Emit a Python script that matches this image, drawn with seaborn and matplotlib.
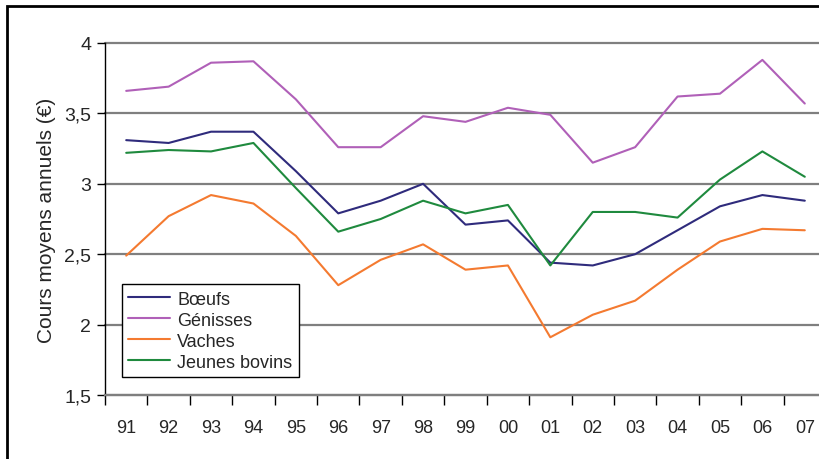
import pandas as pd
import matplotlib
matplotlib.use('Agg')
import matplotlib.pyplot as plt
import seaborn as sns
from matplotlib.patches import Rectangle
from matplotlib.ticker import FixedLocator, FuncFormatter

# données
annees = ['91', '92', '93', '94', '95', '96', '97', '98', '99', '00',
          '01', '02', '03', '04', '05', '06', '07']
boeufs = [3.31, 3.29, 3.37, 3.37, 3.09, 2.79, 2.88, 3.00, 2.71, 2.74,
          2.44, 2.42, 2.50, 2.67, 2.84, 2.92, 2.88]
genisses = [3.66, 3.69, 3.86, 3.87, 3.60, 3.26, 3.26, 3.48, 3.44, 3.54,
            3.49, 3.15, 3.26, 3.62, 3.64, 3.88, 3.57]
vaches = [2.49, 2.77, 2.92, 2.86, 2.63, 2.28, 2.46, 2.57, 2.39, 2.42,
          1.91, 2.07, 2.17, 2.39, 2.59, 2.68, 2.67]
jeunes_bovins = [3.22, 3.24, 3.23, 3.29, 2.97, 2.66, 2.75, 2.88, 2.79, 2.85,
                 2.42, 2.80, 2.80, 2.76, 3.03, 3.23, 3.05]

series = ['Bœufs', 'Génisses', 'Vaches', 'Jeunes bovins']
couleurs = ['#2f2b7c', '#b060b8', '#f47a30', '#1f8a3e']

df = pd.DataFrame({
    'annee': annees * 4,
    'idx': list(range(len(annees))) * 4,
    'cours': boeufs + genisses + vaches + jeunes_bovins,
    'type': [s for s in series for _ in annees],
})

sns.set_style('white')
plt.rcParams['font.family'] = ['Liberation Sans', 'DejaVu Sans']

fig = plt.figure(figsize=(8.19, 4.60), dpi=100)
ax = fig.add_axes([105 / 819, 64 / 460, 721 / 819, 352 / 460])

sns.lineplot(data=df, x='idx', y='cours', hue='type', hue_order=series,
             palette=couleurs, linewidth=1.5, ax=ax, legend=False)

ax.set_xlim(-0.5, len(annees) - 0.5)
ax.set_ylim(1.5, 4)
ax.set_yticks([1.5, 2, 2.5, 3, 3.5, 4])
ax.yaxis.set_major_formatter(FuncFormatter(lambda v, p: ('%g' % v).replace('.', ',')))
ax.yaxis.grid(True, color='#7f7f7f', linewidth=1.6)
ax.set_axisbelow(True)
for gl in ax.get_ygridlines():
    gl.set_clip_on(False)

ax.set_xticks(range(len(annees)))
ax.set_xticklabels(annees)
ax.xaxis.set_minor_locator(FixedLocator([i - 0.5 for i in range(len(annees) + 1)]))
ax.tick_params(axis='x', which='major', length=0, pad=17, labelsize=13)
ax.tick_params(axis='x', which='minor', length=7, width=1, color='black', direction='out', bottom=True)
ax.tick_params(axis='y', length=6, width=1, color='black', direction='out', left=True, labelsize=14, pad=4)

for s in ['top', 'right']:
    ax.spines[s].set_visible(False)
ax.spines['left'].set_color('black')
ax.spines['left'].set_linewidth(1)
ax.spines['bottom'].set_color('#7f7f7f')
ax.spines['bottom'].set_linewidth(1.6)

ax.set_xlabel('')
ax.set_ylabel('Cours moyens annuels (€)', fontsize=15, labelpad=6)

handles = [plt.Line2D([], [], color=c, linewidth=1.5) for c in couleurs]
leg = ax.legend(handles, series, loc='lower left', bbox_to_anchor=(17 / 721, 18 / 352),
                fontsize=13, frameon=True, fancybox=False, edgecolor='black',
                framealpha=1, borderpad=0.35, labelspacing=0.22, handlelength=2.3,
                handletextpad=0.4, borderaxespad=0)
leg.get_frame().set_linewidth(1)

# cadre extérieur
fig.patches.append(Rectangle((7 / 819, -0.1), 1.1, (460 - 7) / 460 + 0.1,
                             transform=fig.transFigure, fill=False,
                             edgecolor='black', linewidth=2))

fig.savefig('out.png', dpi=100)
